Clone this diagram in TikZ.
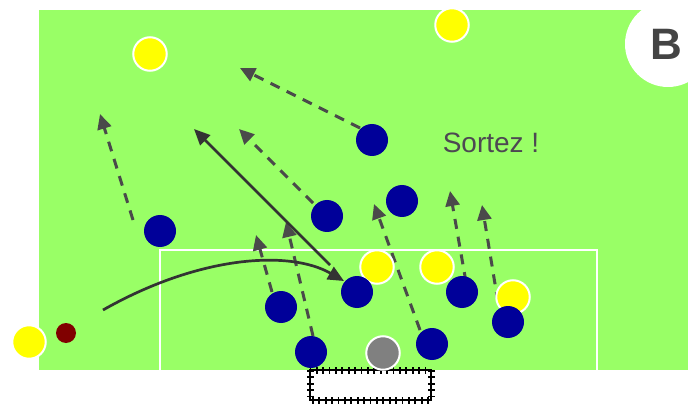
\documentclass[tikz,border=0pt]{standalone}
\usepackage{fontspec}
\setmainfont{Liberation Sans}
\usetikzlibrary{arrows.meta}
\definecolor{field}{RGB}{153,255,102}
\definecolor{navy}{RGB}{0,0,153}
\definecolor{yel}{RGB}{255,255,0}
\definecolor{ballred}{RGB}{128,0,0}
\definecolor{arrowgrey}{RGB}{74,74,74}
\definecolor{solidgrey}{RGB}{51,51,51}
\definecolor{txtgrey}{RGB}{77,72,82}
\definecolor{badgegrey}{RGB}{68,68,68}
\definecolor{keeper}{RGB}{128,128,128}
\begin{document}
\begin{tikzpicture}[x=1pt,y=-1pt,
  blueplayer/.style={circle,fill=navy,minimum size=32pt,inner sep=0pt},
  yellowplayer/.style={circle,fill=yel,draw=white,line width=2pt,minimum size=33.5pt,inner sep=0pt},
  keeperplayer/.style={circle,fill=keeper,draw=white,line width=2pt,minimum size=33.5pt,inner sep=0pt},
  ballnode/.style={circle,fill=ballred,minimum size=20pt,inner sep=0pt},
  runarrow/.style={draw=arrowgrey,line width=3pt,dash pattern=on 10pt off 8pt,
     -{Triangle[length=15pt,width=14pt,fill=arrowgrey]}},
  passarrow/.style={draw=solidgrey,line width=2.7pt,
     -{Triangle[length=16pt,width=14pt,fill=solidgrey]}},
  boxline/.style={draw=white,line width=2.5pt}]
\useasboundingbox (0,0) rectangle (688,406);
% field
\fill[field] (39,10) rectangle (688,370);
% badge
\fill[white] (668,44) circle[radius=43];
\node[text=badgegrey,font=\bfseries\fontsize{44}{44}\selectfont,anchor=base] (badge) at (666,60) {B};
% penalty box
\draw[boxline] (160,371) -- (160,250) -- (597,250) -- (597,371);
% goal
\draw[black,line width=2.6pt] (310,370) rectangle (431,400);
\draw[black,line width=7pt,dash pattern=on 1.8pt off 4.6pt] (310,370) rectangle (431,400);
% text
\node[text=txtgrey,font=\fontsize{28}{28}\selectfont,anchor=base] (cry) at (491,153) {Sortez !};
% arrow coordinates
\coordinate (a1s) at (360,128); \coordinate (a1e) at (240,68);
\coordinate (a2s) at (133,220); \coordinate (a2e) at (100,114);
\coordinate (a3s) at (313,203); \coordinate (a3e) at (239,129);
\coordinate (a4s) at (420,330); \coordinate (a4e) at (374,204);
\coordinate (a5s) at (466,282); \coordinate (a5e) at (450,191);
\coordinate (a6s) at (498,302); \coordinate (a6e) at (482,205);
\coordinate (a7s) at (313,336); \coordinate (a7e) at (286,222);
\coordinate (a8s) at (272,292); \coordinate (a8e) at (256,235);
\coordinate (p1s) at (330,265); \coordinate (p1e) at (194,129);
\coordinate (p2s) at (103,310); \coordinate (p2e) at (344,281);
% runs
\draw[runarrow] (a1s) -- (a1e);
\draw[runarrow] (a2s) -- (a2e);
\draw[runarrow] (a3s) -- (a3e);
\draw[runarrow] (a4s) -- (a4e);
\draw[runarrow] (a5s) -- (a5e);
\draw[runarrow] (a6s) -- (a6e);
\draw[runarrow] (a7s) -- (a7e);
\draw[runarrow] (a8s) -- (a8e);
% passes
\draw[passarrow] (p1s) -- (p1e);
\draw[passarrow] (p2s) .. controls (200,255) and (290,250) .. (p2e);
% yellow players
\node[yellowplayer] (y1) at (150,54) {};
\node[yellowplayer] (y2) at (452,25) {};
\node[yellowplayer] (y3) at (377,267) {};
\node[yellowplayer] (y4) at (437,267) {};
\node[yellowplayer] (y5) at (513,297) {};
\node[yellowplayer] (y6) at (29,342) {};
% blue players
\node[blueplayer] (b1) at (372,140) {};
\node[blueplayer] (b2) at (160,231) {};
\node[blueplayer] (b3) at (327,216) {};
\node[blueplayer] (b4) at (402,201) {};
\node[blueplayer] (b5) at (281,307) {};
\node[blueplayer] (b6) at (357,292) {};
\node[blueplayer] (b7) at (462,292) {};
\node[blueplayer] (b8) at (508,322) {};
\node[blueplayer] (b9) at (311,352) {};
\node[blueplayer] (b10) at (432,344) {};
% keeper and ball
\node[keeperplayer] (gk) at (383,353) {};
\node[ballnode] (ball) at (66,333) {};
\end{tikzpicture}
\end{document}
